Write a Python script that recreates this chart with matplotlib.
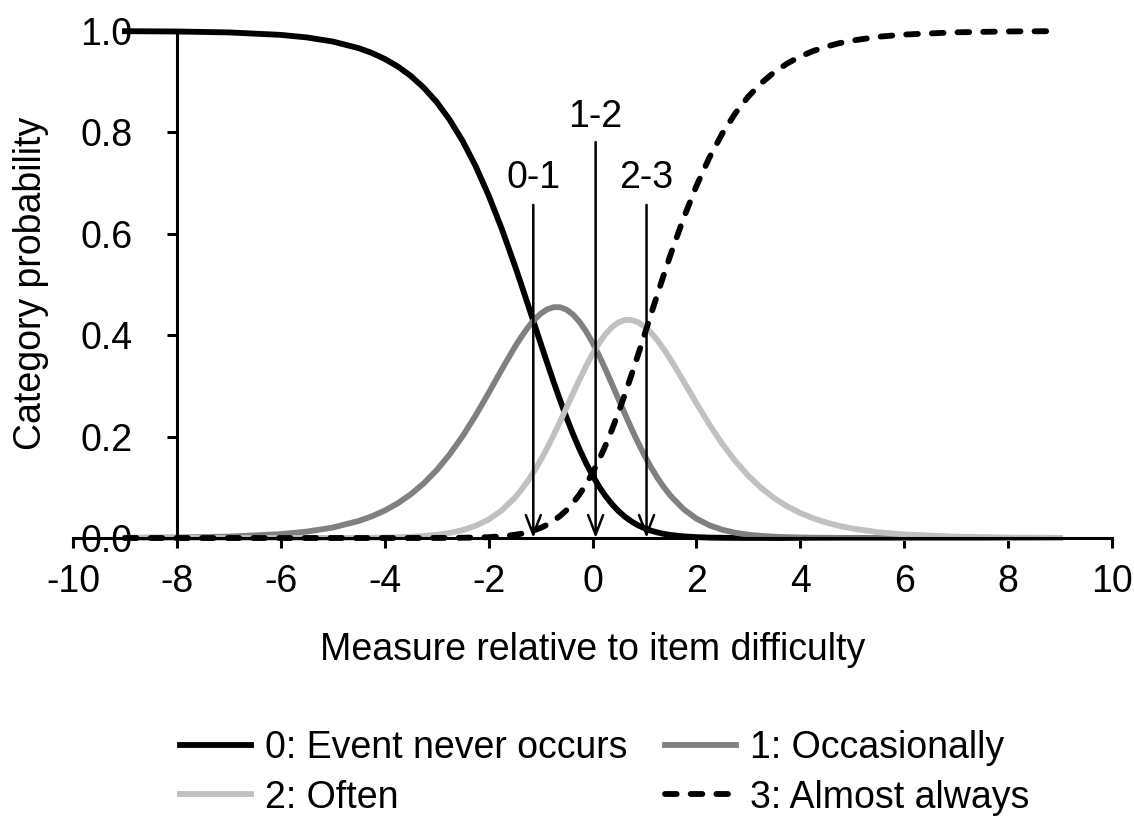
import matplotlib.pyplot as plt

plt.rcParams['font.family'] = ['Liberation Sans', 'DejaVu Sans']
plt.rcParams['axes.unicode_minus'] = False

# measure relative to item difficulty
x = [-9, -8, -7, -6, -5.5, -5, -4.5, -4.25, -4, -3.75, -3.5, -3.25, -3, -2.75, -2.5,
     -2.25, -2, -1.75, -1.5,
     -1.375, -1.25, -1.125, -1, -0.875, -0.75, -0.625, -0.5, -0.375, -0.25, -0.125, 0,
     0.125, 0.25, 0.375, 0.5, 0.625, 0.75, 0.875, 1, 1.125, 1.25, 1.375,
     1.5, 1.75, 2, 2.25, 2.5, 2.75, 3, 3.25,
     3.5, 3.75, 4, 4.25, 4.5, 4.75, 5, 5.5, 6, 7, 8, 9]

# category probabilities
p0 = [0.9996, 0.9990, 0.9972, 0.9923, 0.9873, 0.9792, 0.9661, 0.9568, 0.9449, 0.9301,
      0.9115, 0.8883, 0.8598, 0.8249, 0.7830, 0.7334, 0.6758, 0.6106, 0.5388,
      0.5011, 0.4625, 0.4235, 0.3845, 0.3460, 0.3083, 0.2720, 0.2374, 0.2050, 0.1750,
      0.1478, 0.1233, 0.1016, 0.0828, 0.0667, 0.0531, 0.0418, 0.0326, 0.0251, 0.0192,
      0.0145, 0.0109, 0.0081,
      0.0060, 0.0032, 0.0017, 0.0008, 0.0004, 0.0002, 0.0001, 0.0001,
      0, 0, 0, 0, 0, 0, 0, 0, 0, 0, 0, 0]
p1 = [0.0004, 0.0010, 0.0028, 0.0077, 0.0126, 0.0206, 0.0336, 0.0427, 0.0541, 0.0684,
      0.0861, 0.1077, 0.1338, 0.1649, 0.2010, 0.2417, 0.2860, 0.3318, 0.3759,
      0.3961, 0.4143, 0.4299, 0.4423, 0.4509, 0.4553, 0.4552, 0.4503, 0.4406, 0.4263,
      0.4077, 0.3854, 0.3601, 0.3325, 0.3035, 0.2739, 0.2444, 0.2157, 0.1884, 0.1629,
      0.1396, 0.1186, 0.0999,
      0.0835, 0.0571, 0.0382, 0.0250, 0.0162, 0.0103, 0.0065, 0.0041,
      0.0025, 0.0016, 0.0010, 0.0006, 0.0004, 0.0002, 0.0001, 0.0001, 0, 0, 0, 0]
p2 = [0, 0, 0, 0, 0.0001, 0.0001, 0.0004, 0.0006, 0.0009, 0.0015,
      0.0024, 0.0039, 0.0063, 0.0099, 0.0155, 0.0240, 0.0364, 0.0543, 0.0790,
      0.0943, 0.1118, 0.1315, 0.1532, 0.1770, 0.2026, 0.2294, 0.2572, 0.2852, 0.3126,
      0.3388, 0.3630, 0.3843, 0.4021, 0.4159, 0.4252, 0.4299, 0.4300, 0.4256, 0.4171,
      0.4050, 0.3897, 0.3720,
      0.3524, 0.3097, 0.2658, 0.2238, 0.1853, 0.1516, 0.1227, 0.0985,
      0.0785, 0.0623, 0.0492, 0.0388, 0.0305, 0.0239, 0.0187, 0.0114, 0.0070, 0.0026,
      0.0009, 0.0003]
p3 = [0, 0, 0, 0, 0, 0, 0, 0, 0, 0,
      0, 0.0001, 0.0001, 0.0002, 0.0005, 0.0009, 0.0017, 0.0033, 0.0062,
      0.0084, 0.0113, 0.0151, 0.0199, 0.0261, 0.0338, 0.0434, 0.0551, 0.0693, 0.0861,
      0.1057, 0.1283, 0.1539, 0.1825, 0.2139, 0.2478, 0.2839, 0.3217, 0.3609, 0.4008,
      0.4409, 0.4808, 0.5200,
      0.5582, 0.6300, 0.6943, 0.7504, 0.7981, 0.8379, 0.8708, 0.8974,
      0.9190, 0.9361, 0.9498, 0.9606, 0.9692, 0.9759, 0.9811, 0.9886, 0.9930, 0.9974,
      0.9991, 0.9997]

labels = ["0: Event never occurs", "1: Occasionally", "2: Often", "3: Almost always"]

# thresholds (arrows)
thr_x = [-1.14, 0.06, 1.04]
thr_top = [0.657, 0.781, 0.657]
thr_lab = ["0-1", "1-2", "2-3"]
thr_lab_y = [0.71, 0.83, 0.71]

assert len(x) == len(p0) == len(p1) == len(p2) == len(p3)

fs = 27
fig = plt.figure(figsize=(11.34, 8.22), dpi=100)
ax = fig.add_axes([0.0644, 0.3455, 0.9162, 0.6168])

lw = 4.2
style = dict(lw=lw, clip_on=False, solid_joinstyle='round')
h0, = ax.plot(x, p0, color='black', label=labels[0], **style)
h1, = ax.plot(x, p1, color='#808080', label=labels[1], **style)
h2, = ax.plot(x, p2, color='#c0c0c0', label=labels[2], **style)
h3, = ax.plot(x, p3, color='black', label=labels[3], dashes=(2.0, 2.4),
              dash_capstyle='round', lw=lw, clip_on=False)

for tx, ty, tl, ly in zip(thr_x, thr_top, thr_lab, thr_lab_y):
    ax.annotate('', xy=(tx, 0), xytext=(tx, ty),
                arrowprops=dict(arrowstyle='->,head_length=0.7,head_width=0.27',
                                lw=1.8, color='black', shrinkA=0, shrinkB=0,
                                mutation_scale=20))
    ax.text(tx, ly, tl, fontsize=fs, ha='center', va='center')

ax.set_xlim(-10, 10)
ax.set_ylim(0, 1)
ax.set_xticks(range(-10, 11, 2))
ax.set_yticks([0, 0.2, 0.4, 0.6, 0.8, 1.0])
ax.set_yticklabels(['0.0', '0.2', '0.4', '0.6', '0.8', '1.0'])
ax.spines['left'].set_position(('data', -8))
ax.spines['top'].set_visible(False)
ax.spines['right'].set_visible(False)
for s in ['left', 'bottom']:
    ax.spines[s].set_linewidth(2.2)
ax.tick_params(axis='both', direction='out', length=7, width=2.2, labelsize=fs)
ax.tick_params(axis='y', pad=25)
ax.tick_params(axis='x', pad=11.5)

ax.set_xlabel("Measure relative to item difficulty", fontsize=fs, labelpad=23)
fig.text(0.027, 0.347 + 0.6168 / 2, "Category probability", fontsize=fs,
         rotation=90, ha='center', va='center')

fig.legend([h0, h2, h1, h3], [labels[0], labels[2], labels[1], labels[3]],
           loc='center', bbox_to_anchor=(0.533, 0.0596), ncol=2, frameon=False,
           fontsize=fs, handlelength=1.9, handletextpad=0.37, columnspacing=1.0,
           labelspacing=0.35)

fig.savefig("out.png", dpi=100)
